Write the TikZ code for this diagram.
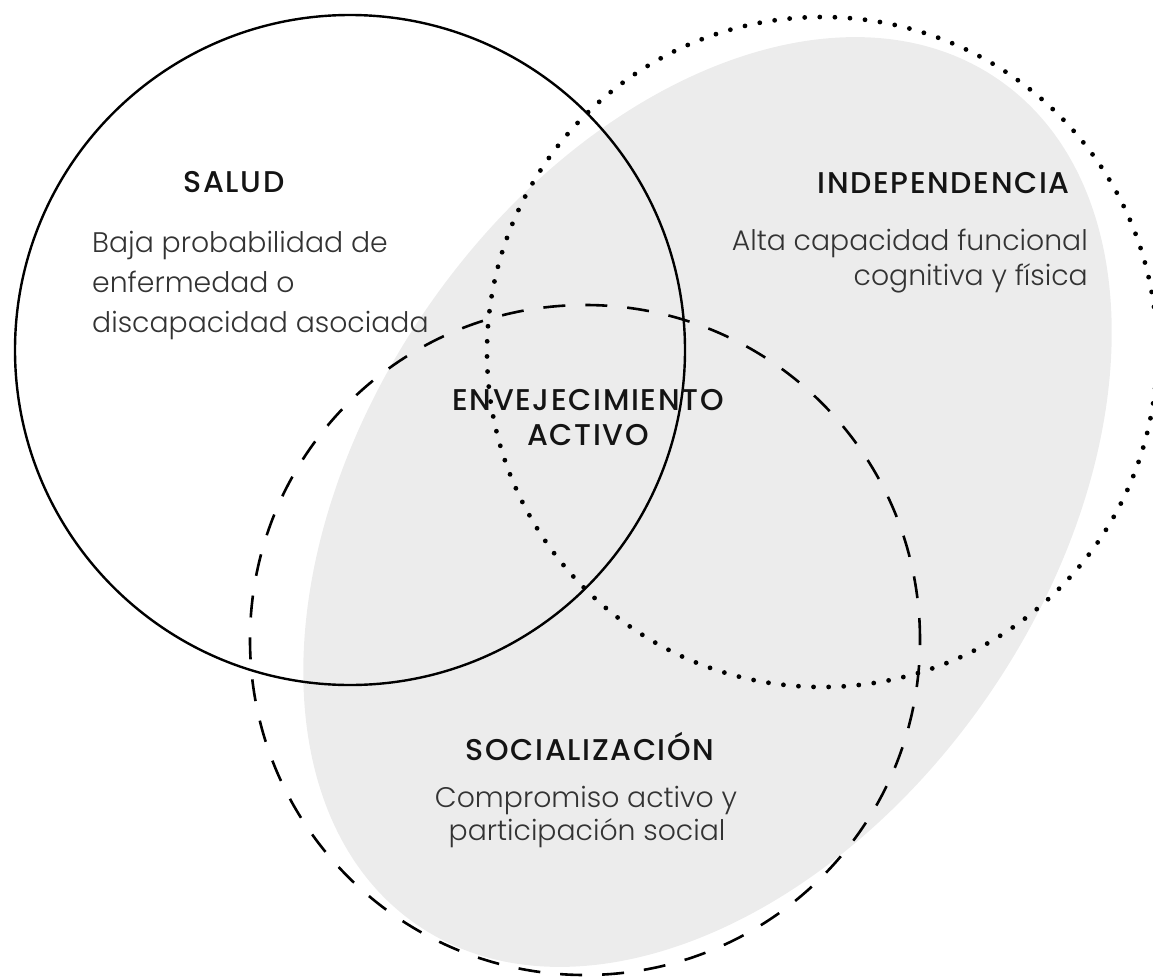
\documentclass[tikz,border=0pt]{standalone}
\usepackage{fontspec}
\setmainfont{Poppins}[UprightFont=* Light, BoldFont=* Medium]
\newfontfamily\titlefont{Poppins Medium}[LetterSpace=5.5]
\definecolor{greyfill}{HTML}{ECECEC}
\definecolor{bodytxt}{HTML}{333333}
\definecolor{titletxt}{HTML}{141414}
\tikzset{
  ring/.style={line width=2.4pt},
  dashring/.style={line width=2.6pt, dash pattern=on 22pt off 20pt},
  dotring/.style={line width=4.8pt, line cap=round, dash pattern=on 0pt off 15.1pt},
  ttl/.style={font=\fontsize{30}{33}\titlefont, text=titletxt, inner sep=0pt},
  bdy/.style={font=\fontsize{28.3}{36}\selectfont, text=bodytxt, inner sep=0pt},
}
\begin{document}
\begin{tikzpicture}[x=1pt,y=-1pt]
\useasboundingbox (0,0) rectangle (1153,977);
\clip (0,0) rectangle (1153,977);
% grey tilted ellipse
\begin{scope}[shift={(707.5,502)}, rotate=55.5]
  \fill[greyfill] (0,0) ellipse [x radius=513pt, y radius=341pt];
\end{scope}
% circles
\draw[ring] (350,350) circle [radius=335pt];
\draw[dotring] (822,352) circle [radius=335pt];
\draw[dashring] (585,640) circle [radius=335pt];
% SALUD
\node[ttl, anchor=base] (salud) at (234,192) {SALUD};
\node[bdy, anchor=base west] (s1) at (92,252) {Baja probabilidad de};
\node[bdy, anchor=base west] (s2) at (92,292) {enfermedad o};
\node[bdy, anchor=base west] (s3) at (92,332) {discapacidad asociada};
% INDEPENDENCIA
\node[ttl, anchor=base east] (indep) at (1070,193) {INDEPENDENCIA};
\node[bdy, anchor=base east] (i1) at (1088,250) {Alta capacidad funcional};
\node[bdy, anchor=base east] (i2) at (1088,285) {cognitiva y física};
% centre
\node[ttl, anchor=base] (env) at (588,410) {ENVEJECIMIENTO};
\node[ttl, anchor=base] (act) at (588,445) {ACTIVO};
% SOCIALIZACION
\node[ttl, anchor=base] (soc) at (590,760) {SOCIALIZACIÓN};
\node[bdy, anchor=base] (c1) at (586,807) {Compromiso activo y};
\node[bdy, anchor=base] (c2) at (587,840) {participación social};
\end{tikzpicture}
\end{document}
